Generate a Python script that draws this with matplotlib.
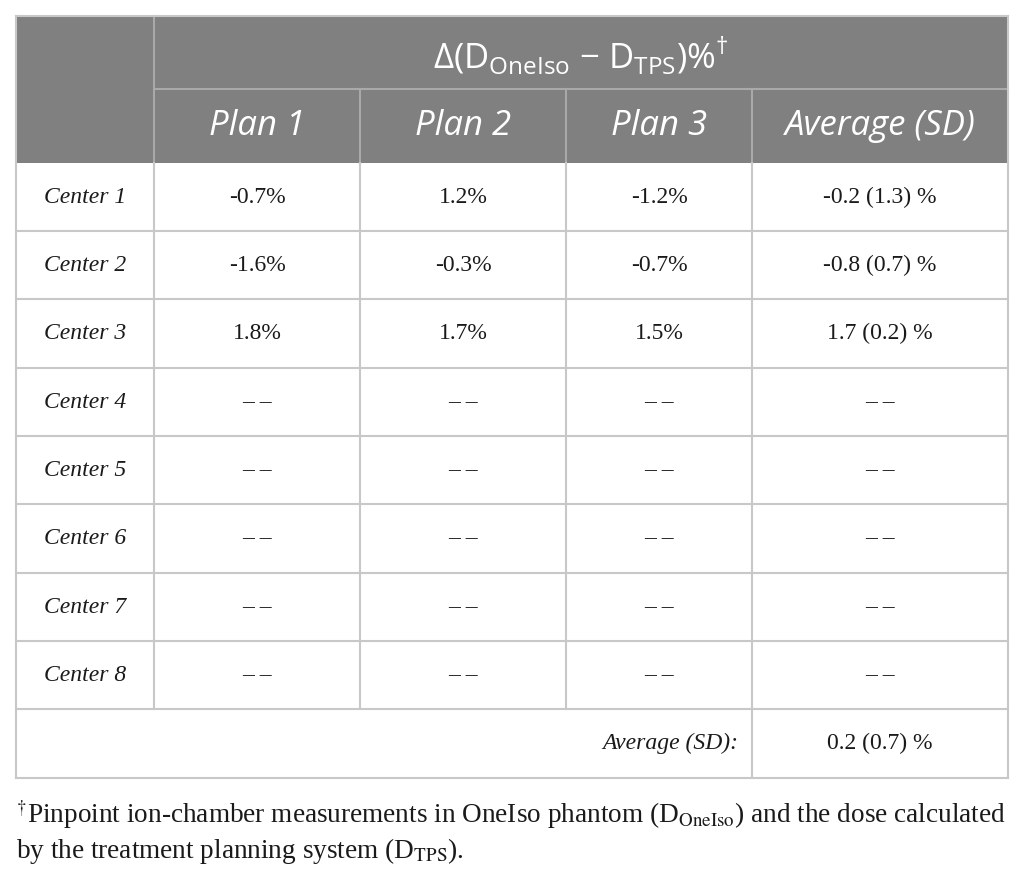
import matplotlib
matplotlib.use("Agg")
import matplotlib.pyplot as plt
from matplotlib.patches import Rectangle

# table values (None = no measurement)
centers = ["Center 1", "Center 2", "Center 3", "Center 4",
           "Center 5", "Center 6", "Center 7", "Center 8"]
col_heads = ["Plan 1", "Plan 2", "Plan 3", "Average (SD)"]
plan1 = [-0.7, -1.6, 1.8, None, None, None, None, None]
plan2 = [1.2, -0.3, 1.7, None, None, None, None, None]
plan3 = [-1.2, -0.7, 1.5, None, None, None, None, None]
avg = [-0.2, -0.8, 1.7, None, None, None, None, None]
sd = [1.3, 0.7, 0.2, None, None, None, None, None]
total_avg = 0.2
total_sd = 0.7

plt.rcParams['mathtext.fontset'] = 'custom'
plt.rcParams['mathtext.rm'] = 'Open Sans'

fig = plt.figure(figsize=(10.25, 8.71), dpi=100)
ax = fig.add_axes([0, 0, 1, 1])
ax.set_xlim(0, 1025)
ax.set_ylim(871, 0)
ax.axis('off')

# layout in pixels
xs = [16, 154, 360, 566, 752, 1008]
top = 16
h1 = 89
h2 = 163
rows = [163, 231, 299, 368, 436, 504, 573, 641, 709, 778]

head_bg = '#808080'
head_line = '#a9a9a9'
grid = '#c8c8c8'
txt = '#1a1a1a'

ax.add_patch(Rectangle((xs[0], top), xs[-1] - xs[0], h2 - top,
                       facecolor=head_bg, edgecolor='none', zorder=1))

# header lines
ax.plot([xs[1], xs[-1]], [h1, h1], color=head_line, lw=1.5, zorder=2)
ax.plot([xs[1], xs[1]], [top, h2], color=head_line, lw=1.5, zorder=2)
for x in xs[2:-1]:
    ax.plot([x, x], [h1, h2], color=head_line, lw=1.5, zorder=2)

# body grid
for y in rows[1:]:
    ax.plot([xs[0], xs[-1]], [y, y], color=grid, lw=1.5, zorder=2)
for x in xs[1:-1]:
    ax.plot([x, x], [rows[0], rows[-2]], color=grid, lw=1.5, zorder=2)
ax.plot([xs[4], xs[4]], [rows[-2], rows[-1]], color=grid, lw=1.5, zorder=2)
ax.plot([xs[0], xs[0]], [top, rows[-1]], color=grid, lw=1.5, zorder=3)
ax.plot([xs[-1], xs[-1]], [top, rows[-1]], color=grid, lw=1.5, zorder=3)
ax.plot([xs[0], xs[-1]], [top, top], color=grid, lw=1.5, zorder=3)

# header text
ax.text((xs[1] + xs[-1]) / 2, (top + h1) / 2 + 3,
        r"Δ(D$_{\mathrm{OneIso}}$ − D$_{\mathrm{TPS}}$)%$^{\dagger}$",
        family='Open Sans', fontsize=25, color='white',
        ha='center', va='center', zorder=4)
for i, name in enumerate(col_heads):
    ax.text((xs[i + 1] + xs[i + 2]) / 2, (h1 + h2) / 2, name,
            family='Open Sans', style='italic', fontsize=25, color='white',
            ha='center', va='center', zorder=4)


def fmt(v):
    return "– –" if v is None else f"{v:.1f}%"


for r, name in enumerate(centers):
    yc = (rows[r] + rows[r + 1]) / 2
    ax.text((xs[0] + xs[1]) / 2, yc, name, family='Liberation Serif',
            style='italic', fontsize=17, color=txt, ha='center', va='center')
    for c, series in enumerate([plan1, plan2, plan3]):
        ax.text((xs[c + 1] + xs[c + 2]) / 2, yc, fmt(series[r]),
                family='Liberation Serif', fontsize=17, color=txt,
                ha='center', va='center')
    if avg[r] is None:
        s = "– –"
    else:
        s = f"{avg[r]:.1f} ({sd[r]:.1f}) %"
    ax.text((xs[4] + xs[5]) / 2, yc, s, family='Liberation Serif',
            fontsize=17, color=txt, ha='center', va='center')

yc = (rows[-2] + rows[-1]) / 2
ax.text(xs[4] - 14, yc, "Average (SD):", family='Liberation Serif',
        style='italic', fontsize=17, color=txt, ha='right', va='center')
ax.text((xs[4] + xs[5]) / 2, yc, f"{total_avg:.1f} ({total_sd:.1f}) %",
        family='Liberation Serif', fontsize=17, color=txt,
        ha='center', va='center')

# footnote
ax.text(xs[0], 815,
        r"$^{\dagger}$Pinpoint ion-chamber measurements in OneIso phantom "
        r"(D$_{\mathrm{OneIso}}$) and the dose calculated",
        family='Liberation Serif', math_fontfamily='stix', fontsize=19.6,
        color=txt, ha='left', va='center')
ax.text(xs[0], 851,
        r"by the treatment planning system (D$_{\mathrm{TPS}}$).",
        family='Liberation Serif', math_fontfamily='stix', fontsize=19.6,
        color=txt, ha='left', va='center')

fig.savefig("out.png", dpi=100)
